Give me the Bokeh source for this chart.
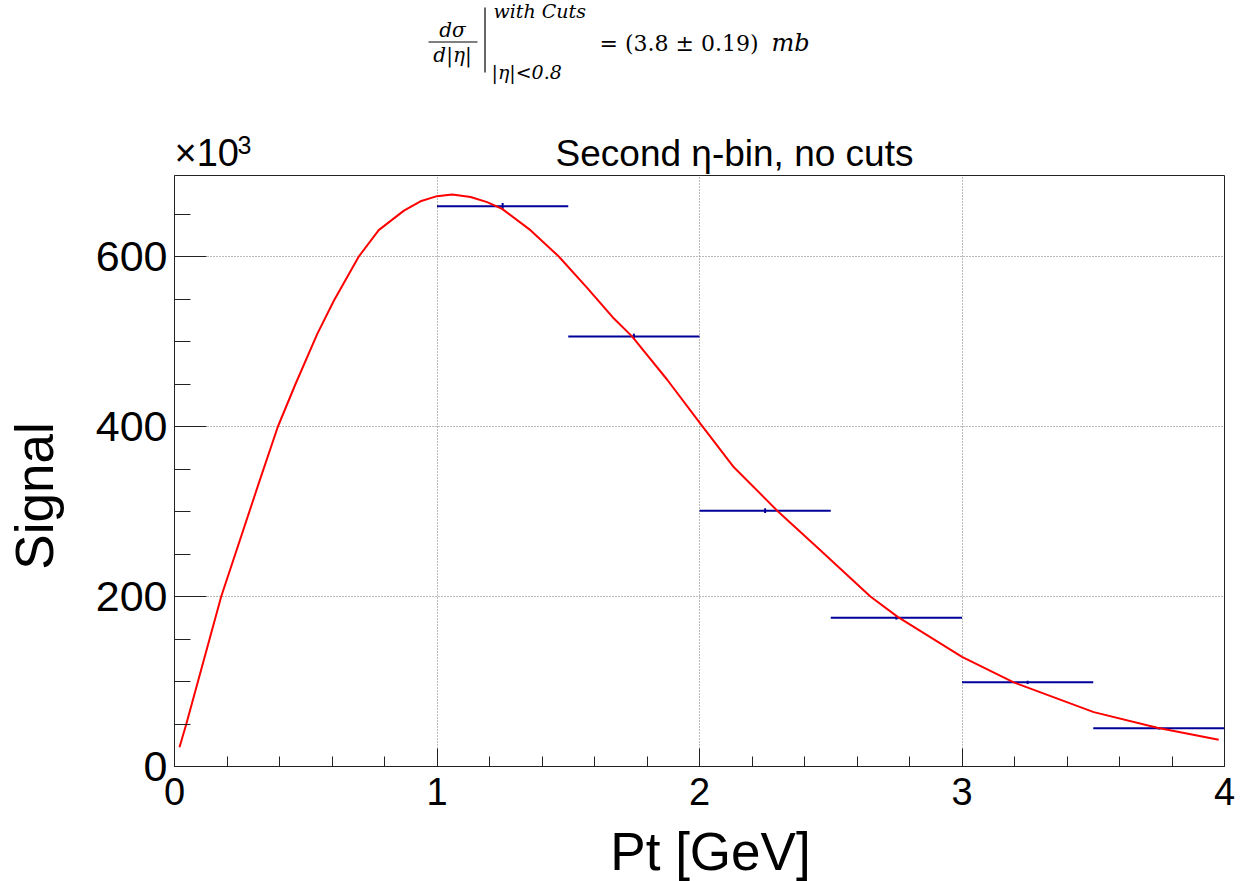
import numpy as np
from bokeh.plotting import figure
from bokeh.models import FixedTicker, Range1d
from bokeh.layouts import column, row
from bokeh.core.properties import value
from bokeh.embed import file_html
from bokeh.resources import INLINE

# ---- data ----
bin_lo = [1.0, 1.5, 2.0, 2.5, 3.0, 3.5]
bin_hi = [1.5, 2.0, 2.5, 3.0, 3.5, 4.0]
signal = [659.0, 506.0, 301.0, 175.0, 99.0, 45.0]      # x10^3
signal_err = [4.0, 3.2, 2.8, 2.2, 2.0, 1.5]

fit_x = [0.019, 0.045, 0.178, 0.324, 0.394, 0.461, 0.544, 0.607, 0.702, 0.778,
         0.874, 0.937, 1.0, 1.058, 1.128, 1.191, 1.248, 1.356, 1.464, 1.572,
         1.674, 1.743, 1.877, 2.004, 2.131, 2.296, 2.448, 2.651, 2.755, 3.0,
         3.197, 3.502, 3.744, 3.978]
fit_y = [22.7, 50.0, 200.0, 336.0, 400.0, 450.0, 509.0, 548.0, 600.0, 631.0,
         654.0, 665.0, 671.0, 673.0, 670.0, 664.0, 656.0, 631.0, 600.0, 563.0,
         527.0, 506.0, 455.0, 403.0, 352.0, 301.0, 258.0, 200.0, 176.0, 129.0,
         99.0, 64.0, 45.5, 31.4]

x_ticks = [0, 1, 2, 3, 4]
y_ticks = [0, 200, 400, 600]

title_text = "Second \u03b7-bin, no cuts"
x_label = "Pt [GeV]"
y_label = "Signal"

W, H = 1258, 881
LEFT_W = 80           # strip holding the y title
BL, BR = 174, 34      # page position of the frame's left edge, right border
TOP_H = 174
MAIN_H = 647          # 1 + 591 frame + 55 tick-label border
BOT_H = H - TOP_H - MAIN_H

SANS = "Liberation Sans"
SERIF = "DejaVu Serif"
BASE_SHIFT = 0.3465   # em: drawn text is centred on its anchor in svg output


def strip(width, height, x0, x1, ytop, ybot, bl=0, br=0):
    """Helper figure whose data coordinates are page pixels (y negated)."""
    f = figure(width=width, height=height,
               x_range=Range1d(x0, x1), y_range=Range1d(-ybot, -ytop),
               output_backend="svg", toolbar_location=None, title=None,
               min_border_left=bl, min_border_right=br,
               min_border_top=0, min_border_bottom=0,
               x_axis_location=None, y_axis_location=None)
    f.outline_line_color = None
    f.background_fill_color = "white"
    f.border_fill_color = "white"
    f.xgrid.visible = False
    f.ygrid.visible = False
    return f


def txt(f, t, px, py, size, font=SANS, style="normal", align="left", rotated=False):
    if rotated:   # baseline at px, reading bottom to top
        x, y, ang = px - BASE_SHIFT * size, py, np.pi / 2
    else:         # baseline at py
        x, y, ang = px, py - BASE_SHIFT * size, 0.0
    f.text(x=[x], y=[-y], text=[t], text_font=value(font),
           text_font_size=f"{size}px", text_font_style=style, text_align=align,
           text_baseline="alphabetic", angle=ang, text_color="black")


# ---- main plot ----
p = figure(width=W - LEFT_W, height=MAIN_H, x_range=(0, 4), y_range=(0, 695.3),
           output_backend="svg", toolbar_location=None, title=None,
           min_border_left=BL - LEFT_W, min_border_right=BR,
           min_border_top=1, min_border_bottom=MAIN_H - 1 - 591)
p.background_fill_color = "white"
p.border_fill_color = "white"
p.outline_line_color = "#222222"
p.outline_line_width = 1

xa = p.xaxis[0]
xa.ticker = FixedTicker(ticks=x_ticks, minor_ticks=list(np.round(np.arange(0, 4.001, 0.2), 3)))
xa.major_tick_in = 18
xa.major_tick_out = 0
xa.minor_tick_in = 10
xa.minor_tick_out = 0
xa.major_label_text_font = SANS
xa.major_label_text_font_size = "38px"
xa.major_label_text_color = "black"
xa.major_label_standoff = 11

ya = p.yaxis[0]
ya.ticker = FixedTicker(ticks=y_ticks, minor_ticks=list(range(0, 700, 50)))
ya.major_tick_in = 32
ya.major_tick_out = 0
ya.minor_tick_in = 16
ya.minor_tick_out = 0
ya.major_label_text_font = SANS
ya.major_label_text_font_size = "43px"
ya.major_label_text_color = "black"
ya.major_label_standoff = 7

for a in (xa, ya):
    a.axis_line_color = "#222222"
    a.major_tick_line_color = "#222222"
    a.minor_tick_line_color = "#222222"

p.xgrid.ticker = FixedTicker(ticks=x_ticks)
p.ygrid.ticker = FixedTicker(ticks=y_ticks)
p.grid.grid_line_color = "#777777"
p.grid.grid_line_dash = "1 2"
p.grid.grid_line_width = 1

centers = [(a + b) / 2 for a, b in zip(bin_lo, bin_hi)]
lo_err = [s - e for s, e in zip(signal, signal_err)]
hi_err = [s + e for s, e in zip(signal, signal_err)]
p.segment(x0=bin_lo, y0=signal, x1=bin_hi, y1=signal, line_color="#000099", line_width=2)
p.segment(x0=centers, y0=lo_err, x1=centers, y1=hi_err, line_color="#000099", line_width=2)
p.line(fit_x, fit_y, line_color="#ff0000", line_width=2)

# ---- top strip: formula, x10^3, title ----
top = strip(W - LEFT_W, TOP_H, BL, W - BR, 0, TOP_H, bl=BL - LEFT_W, br=BR)
txt(top, title_text, 734, 166, 37, align="center")
txt(top, "\u00d710", 174, 166, 38)
txt(top, "3", 237, 153, 25)
txt(top, "d\u03c3", 452, 36, 20, font=SERIF, style="italic", align="center")
txt(top, "d|\u03b7|", 452, 61, 20, font=SERIF, style="italic", align="center")
txt(top, "with Cuts", 493, 17, 19, font=SERIF, style="italic")
txt(top, "|\u03b7|<0.8", 491, 78, 19, font=SERIF, style="italic")
txt(top, "= (3.8 \u00b1 0.19)", 599, 51, 22, font=SERIF)
txt(top, "mb", 771, 51, 24, font=SERIF, style="italic")
top.segment(x0=[428, 484.5], y0=[-41.5, -7], x1=[477, 484.5], y1=[-41.5, -72],
            line_color="black", line_width=[1, 1.2])

# ---- bottom strip: x title ----
bot = strip(W - LEFT_W, BOT_H, BL, W - BR, TOP_H + MAIN_H, H, bl=BL - LEFT_W, br=BR)
txt(bot, x_label, 710, 869, 53, align="center")

# ---- left strip: y title ----
left = strip(LEFT_W, H, 0, LEFT_W, 0, H)
txt(left, y_label, 52, 495.5, 53, align="center", rotated=True)

layout = row(left, column(top, p, bot, spacing=0), spacing=0)
open("out.html", "w").write(file_html(layout, INLINE))
